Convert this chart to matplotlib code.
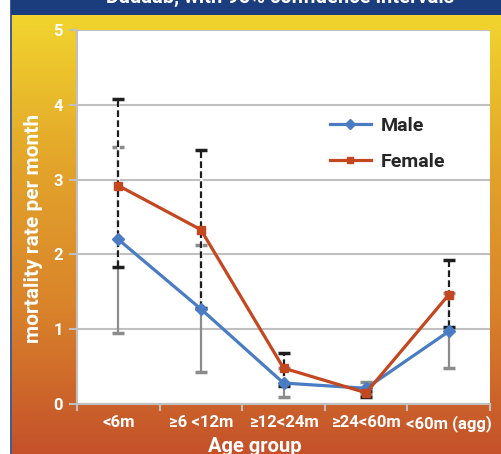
import numpy as np
import matplotlib.pyplot as plt
from matplotlib.colors import LinearSegmentedColormap

# data
categories = ['<6m', '≥6 <12m', '≥12<24m', '≥24<60m', '<60m (agg)']
male = [2.20, 1.27, 0.28, 0.21, 0.97]
male_lo = [0.95, 0.43, 0.09, 0.13, 0.48]
male_hi = [3.43, 2.12, 0.48, 0.29, 1.48]
female = [2.92, 2.33, 0.48, 0.15, 1.46]
female_lo = [1.83, 1.28, 0.24, 0.10, 1.03]
female_hi = [4.08, 3.39, 0.68, 0.18, 1.92]
yticks = [0, 1, 2, 3, 4, 5]

fonts = ['Roboto', 'DejaVu Sans']
male_col = '#4a7cc4'
female_col = '#c4471f'

fig = plt.figure(figsize=(5.02, 4.54), dpi=100)
W, H = 502, 454

# background: gradient, blue band on top, blue rule on the left
bg = fig.add_axes([0, 0, 1, 1])
bg.set_xlim(0, W)
bg.set_ylim(H, 0)
bg.axis('off')
cmap = LinearSegmentedColormap.from_list('bg', ['#f1d52e', '#e3a52a', '#d9832b', '#c4512a'])
grad = np.linspace(0, 1, 256).reshape(-1, 1)
bg.imshow(grad, cmap=cmap, extent=[12, W, H, 15], aspect='auto')
bg.fill_between([11, W], 0, 15, color='#1b3d7e', lw=0)
bg.plot([11.5, 11.5], [0, H], color='#1b3d7e', lw=1.2)

fig.text(0.558, 1 - 3 / H, 'Dadaab, with 95% confidence intervals', color='white',
         fontsize=14.5, fontweight='bold', family=fonts, ha='center', va='baseline')

ax = fig.add_axes([77 / W, 1 - 404 / H, 413 / W, 374 / H])
x = np.arange(len(categories))

# error bars
eb = ax.errorbar(x, male, yerr=[np.array(male) - np.array(male_lo), np.array(male_hi) - np.array(male)],
                 fmt='none', ecolor='#8c8c8c', elinewidth=1.6, capsize=4.3, capthick=2.5, zorder=2)
ax.vlines(x, female_lo, female_hi, color='white', lw=1.8, zorder=3)
eb2 = ax.errorbar(x, female, yerr=[np.array(female) - np.array(female_lo), np.array(female_hi) - np.array(female)],
                  fmt='none', ecolor='#1e1e1e', elinewidth=1.6, capsize=4.3, capthick=2.5, zorder=4)
eb2[2][0].set_linestyle((0, (3, 1.5)))

ax.plot(x, male, color=male_col, lw=2.3, marker='D', ms=6, label='Male', zorder=5)
ax.plot(x, female, color=female_col, lw=2.3, marker='s', ms=6, label='Female', zorder=6)

ax.set_xlim(-0.5, len(categories) - 0.5)
ax.set_ylim(0, 5)
ax.set_yticks(yticks)
ax.set_xticks(x)
ax.set_xticklabels(categories)
ax.set_xticks(np.arange(-0.5, len(categories)), minor=True)
ax.tick_params(axis='x', which='major', length=0, pad=8)
ax.tick_params(axis='x', which='minor', length=5, width=1.5, color='#c0c0c0')
ax.tick_params(axis='y', length=6, width=1.5, color='#c0c0c0', pad=4)
for lab in ax.get_xticklabels():
    lab.set_color('white')
    lab.set_fontweight('bold')
    lab.set_fontsize(12)
    lab.set_family(fonts)
for lab in ax.get_yticklabels():
    lab.set_color('white')
    lab.set_fontweight('bold')
    lab.set_fontsize(12)
    lab.set_family(fonts)

ax.grid(axis='y', color='#c0c0c0', lw=1.5)
ax.set_axisbelow(True)
for s in ['top', 'right']:
    ax.spines[s].set_visible(False)
for s in ['left', 'bottom']:
    ax.spines[s].set_color('#c0c0c0')
    ax.spines[s].set_linewidth(1.5)

ax.set_xlabel('Age group', color='white', fontsize=14.5, fontweight='bold', family=fonts)
ax.xaxis.set_label_coords((255 - 77) / 413, -(446 - 404) / 374)
ax.xaxis.label.set_va('center')
ax.set_ylabel('mortality rate per month', color='white', fontsize=15, fontweight='bold', family=fonts)
ax.yaxis.set_label_coords(-(77 - 34) / 413, 0.47)
ax.yaxis.label.set_va('center')

leg = ax.legend(loc='upper left', bbox_to_anchor=(0.57, 0.815), frameon=False, handlelength=2.1,
                handletextpad=0.5, labelspacing=0.95,
                prop={'family': fonts, 'weight': 'bold', 'size': 14}, markerscale=0.8)
for t in leg.get_texts():
    t.set_color('#262626')

fig.savefig('out.png', dpi=100)
